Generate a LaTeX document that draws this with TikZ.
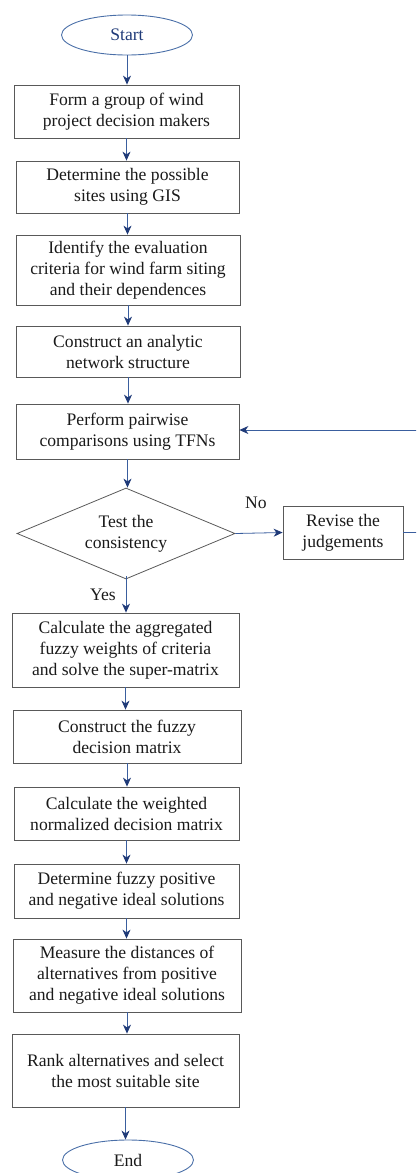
\documentclass[tikz,border=0pt]{standalone}
\usepackage{fontspec}
\setmainfont{Liberation Serif}
\usetikzlibrary{shapes.geometric,arrows.meta,calc}
\definecolor{navy}{HTML}{1F3A78}
\definecolor{lineblue}{HTML}{3A5E9E}
\definecolor{ellblue}{HTML}{4A6FA8}
\definecolor{boxgray}{HTML}{595959}
\definecolor{txt}{HTML}{1A1A1A}
\begin{document}
\begin{tikzpicture}[x=1pt,y=-1pt,
  every node/.style={font=\fontsize{17.6}{21}\selectfont, text=txt, align=center, inner sep=0pt},
  stepbox/.style={draw=boxgray, line width=0.8pt, rectangle},
  term/.style={draw=ellblue, line width=0.9pt, ellipse, minimum width=131pt, minimum height=40pt},
  decide/.style={draw=boxgray, line width=0.8pt, diamond, aspect=2.4, minimum width=218pt, minimum height=91pt},
  arr/.style={draw=lineblue, line width=0.8pt, -{Stealth[length=9pt,width=8pt,inset=2.8pt,fill=navy,color=navy]}},
  lbl/.style={font=\fontsize{17.6}{21}\selectfont, text=txt}
]
\useasboundingbox (0,0) rectangle (416,1173);
\clip (0,0) rectangle (416,1173);

\node[term, text=navy] (start) at (127,35) {Start};
\node[stepbox, minimum width=225pt, minimum height=53pt] (b1) at (126.5,111.5) {Form a group of wind\\project decision makers};
\node[stepbox, minimum width=223pt, minimum height=52pt] (b2) at (127.5,187) {Determine the possible\\sites using GIS};
\node[stepbox, minimum width=224pt, minimum height=70pt] (b3) at (128,270) {Identify the evaluation\\criteria for wind farm siting\\and their dependences};
\node[stepbox, minimum width=224pt, minimum height=51pt] (b4) at (128,351.5) {Construct an analytic\\network structure};
\node[stepbox, minimum width=223pt, minimum height=55pt] (b5) at (127.5,431.5) {Perform pairwise\\comparisons using TFNs};
\node[decide] (d) at (126,533.5) {};
\node at (126,533.5) {Test the\\consistency};
\node[stepbox, minimum width=120pt, minimum height=53pt] (rev) at (343,532.5) {Revise the\\judgements};
\node[stepbox, minimum width=227pt, minimum height=74pt] (b6) at (125.5,650) {Calculate the aggregated\\fuzzy weights of criteria\\and solve the super-matrix};
\node[stepbox, minimum width=228pt, minimum height=53pt] (b7) at (127,736.5) {Construct the fuzzy\\decision matrix};
\node[stepbox, minimum width=225pt, minimum height=53pt] (b8) at (126.5,813.5) {Calculate the weighted\\normalized decision matrix};
\node[stepbox, minimum width=225pt, minimum height=54pt] (b9) at (126.5,891) {Determine fuzzy positive\\and negative ideal solutions};
\node[stepbox, minimum width=228pt, minimum height=73pt] (b10) at (127,975.5) {Measure the distances of\\alternatives from positive\\and negative ideal solutions};
\node[stepbox, minimum width=227pt, minimum height=73pt] (b11) at (125.5,1070.5) {Rank alternatives and select\\the most suitable site};
\node[term] (end) at (128,1160) {End};

\node[lbl] (no) at (256,503) {No};
\node[lbl] (yes) at (103,595) {Yes};

\coordinate (fr1) at (420,532.5);
\coordinate (fr2) at (420,430);

\draw[arr] (start.south) -- (start.south |- b1.north);
\draw[arr] (b1.south) -- (b1.south |- b2.north);
\draw[arr] (b2.south) -- (b2.south |- b3.north);
\draw[arr] (b3.south) -- (b3.south |- b4.north);
\draw[arr] (b4.south) -- (b4.south |- b5.north);
\draw[arr] (b5.south) -- (b5.south |- d.north);
\draw[arr] ([yshift=3pt]d.south) -- (d.south |- b6.north);
\draw[arr] (d.east) -- (rev.west);
\draw[arr] (rev.east) -- (fr1) -- (fr2) -- (b5.east |- fr2);
\draw[arr] (b6.south) -- (b6.south |- b7.north);
\draw[arr] (b7.south) -- (b7.south |- b8.north);
\draw[arr] (b8.south) -- (b8.south |- b9.north);
\draw[arr] (b9.south) -- (b9.south |- b10.north);
\draw[arr] (b10.south) -- (b10.south |- b11.north);
\draw[arr] (b11.south) -- (b11.south |- end.north);
\end{tikzpicture}
\end{document}
